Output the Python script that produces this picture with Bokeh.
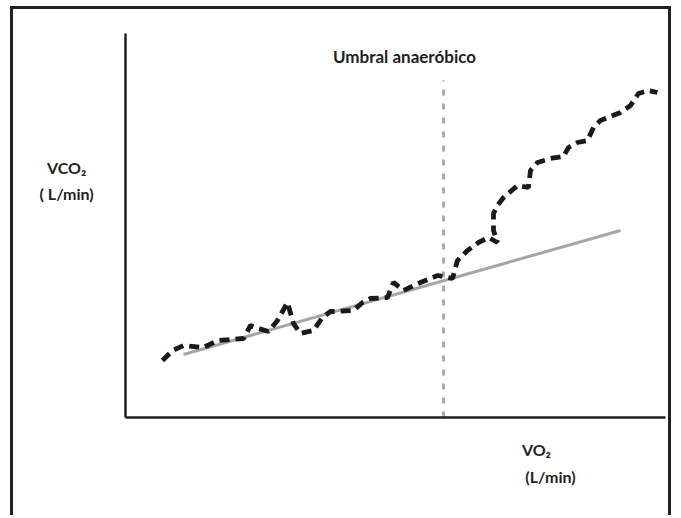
from bokeh.plotting import figure
from bokeh.models import Range1d, Label
from bokeh.embed import file_html
from bokeh.resources import INLINE

# Data (arbitrary units 0-100 on both axes)
vo2 = [6.85, 8.70, 10.74, 14.44, 17.04, 21.85, 23.15, 24.07, 26.48, 28.15, 30.0, 31.11,
       32.41, 34.81, 36.48, 37.96, 42.22, 43.89, 45.37, 48.52, 49.63, 51.48, 54.63,
       57.78, 60.56, 61.48, 63.33, 65.37, 67.22, 68.89, 68.15, 68.15, 68.89, 70.0,
       72.59, 74.63, 75.0, 76.30, 78.70, 81.11, 82.04, 83.70, 85.56, 86.67, 87.96,
       91.67, 93.52, 95.0, 96.85, 98.52]
vco2 = [14.84, 17.45, 18.75, 18.23, 20.05, 20.57, 23.96, 23.44, 22.40, 25.26, 29.95, 24.48,
        21.88, 22.66, 26.04, 27.60, 27.86, 29.95, 30.99, 31.25, 35.16, 33.07, 35.16,
        36.98, 36.20, 40.89, 43.49, 45.57, 46.88, 45.57, 48.70, 53.13, 55.21, 57.29,
        60.42, 59.90, 64.32, 66.41, 67.45, 67.97, 70.31, 71.61, 72.14, 75.52, 77.34,
        79.43, 81.25, 84.38, 85.16, 84.64]
trend_x = [10.74, 91.67]
trend_y = [16.41, 48.70]
threshold_x = 58.89
threshold_top = 87.76
axis_min, axis_max = 0, 100

p = figure(width=661, height=509, output_backend="svg", toolbar_location=None,
           x_range=Range1d(-20.74, 101.67), y_range=Range1d(-26.30, 106.25),
           min_border=0)
p.styles = {"border-top": "3px solid #222222", "border-left": "3px solid #222222",
            "border-right": "3px solid #222222", "margin": "6px 0 0 10px"}
p.outline_line_color = None
p.xgrid.visible = False
p.ygrid.visible = False
for ax in (p.xaxis, p.yaxis):
    ax.fixed_location = 0
    ax.bounds = (axis_min, axis_max)
    ax.axis_line_color = "#231f20"
    ax.axis_line_width = 2.5
    ax.major_tick_line_color = None
    ax.minor_tick_line_color = None
    ax.major_label_text_color = None
    ax.major_label_text_font_size = "1px"

# threshold vertical dashed line
p.line([threshold_x, threshold_x], [0, threshold_top], line_color="#ababab",
       line_width=3, line_dash="6 8")
# linear trend
p.line(trend_x, trend_y, line_color="#a6a6a6", line_width=3)
# measured curve
p.line(vo2, vco2, line_color="#1a1a1a", line_width=4.8, line_dash="10 6")

font = "Lato"
def lab(x, y, t, size):
    p.add_layout(Label(x=x, y=y, text=t, text_align="center", text_baseline="middle",
                       text_font=font, text_font_style="bold", text_font_size=size,
                       text_color="#231f20"))

lab(51.67, 94.0, "Umbral anaeróbico", "17px")
lab(-10.9, 65.1, "VCO₂", "16px")
lab(-10.9, 58.3, "( L/min)", "16px")
lab(76.1, -8.33, "VO₂", "16px")
lab(78.7, -15.4, "(L/min)", "16px")

open("out.html", "w").write(file_html(p, INLINE))
